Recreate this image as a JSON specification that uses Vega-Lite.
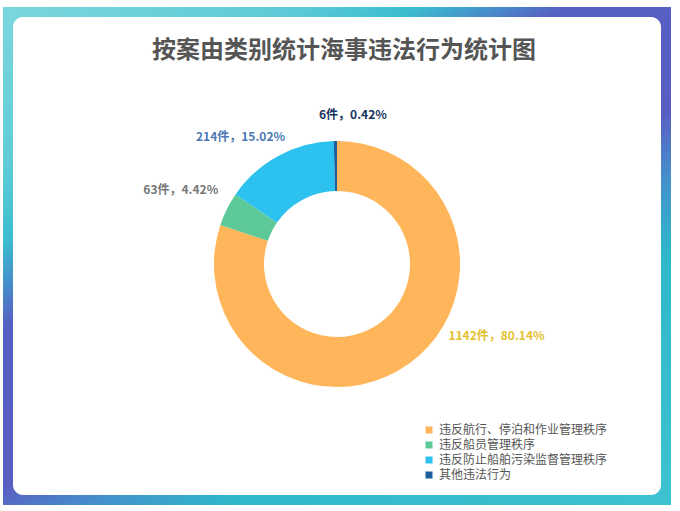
{
  "$schema": "https://vega.github.io/schema/vega-lite/v6.json",
  "width": 648,
  "height": 478,
  "autosize": "none",
  "padding": {"left": 13, "top": 17, "right": 19, "bottom": 16},
  "background": "white",
  "title": {
    "text": "按案由类别统计海事违法行为统计图",
    "font": "Noto Sans CJK SC",
    "fontSize": 24,
    "fontWeight": "bold",
    "color": "#555555",
    "anchor": "middle",
    "offset": -56,
    "dx": 7
  },
  "config": {
    "font": "Noto Sans CJK SC",
    "view": {"stroke": null},
    "legend": {
      "orient": "none",
      "legendX": 410,
      "legendY": 407,
      "padding": 0,
      "symbolType": "square",
      "symbolSize": 49,
      "symbolStrokeWidth": 0,
      "labelFont": "Noto Sans CJK SC",
      "labelFontSize": 12,
      "labelColor": "#555555",
      "labelLimit": 300,
      "labelOffset": 4,
      "rowPadding": 3
    }
  },
  "layer": [
    {
      "data": {"values": [{"frame": "border"}]},
      "mark": {
        "type": "rect",
        "strokeWidth": 20,
        "fill": {
          "gradient": "linear",
          "x1": 0, "y1": 0, "x2": 0.855, "y2": 1.111,
          "stops": [
            {"offset": 0, "color": "#7ad5dd"},
            {"offset": 0.18, "color": "#5ccbd7"},
            {"offset": 0.26, "color": "#3cbccf"},
            {"offset": 0.31, "color": "#4590cb"},
            {"offset": 0.36, "color": "#5660c2"},
            {"offset": 0.55, "color": "#5a5ec2"},
            {"offset": 0.63, "color": "#4490cc"},
            {"offset": 0.72, "color": "#2fb8ca"},
            {"offset": 1, "color": "#3cc2d0"}
          ]
        },
        "stroke": {
          "gradient": "linear",
          "x1": 0, "y1": 0, "x2": 0.855, "y2": 1.111,
          "stops": [
            {"offset": 0, "color": "#7ad5dd"},
            {"offset": 0.18, "color": "#5ccbd7"},
            {"offset": 0.26, "color": "#3cbccf"},
            {"offset": 0.31, "color": "#4590cb"},
            {"offset": 0.36, "color": "#5660c2"},
            {"offset": 0.55, "color": "#5a5ec2"},
            {"offset": 0.63, "color": "#4490cc"},
            {"offset": 0.72, "color": "#2fb8ca"},
            {"offset": 1, "color": "#3cc2d0"}
          ]
        }
      },
      "encoding": {}
    },
    {
      "data": {"values": [{"frame": "card"}]},
      "mark": {"type": "rect", "fill": "white", "cornerRadius": 10},
      "encoding": {}
    },
    {
      "data": {
        "values": [
          {"id": 1, "category": "违反航行、停泊和作业管理秩序", "count": 1142, "pct": 80.14},
          {"id": 2, "category": "违反船员管理秩序", "count": 63, "pct": 4.42},
          {"id": 3, "category": "违反防止船舶污染监督管理秩序", "count": 214, "pct": 15.02},
          {"id": 4, "category": "其他违法行为", "count": 6, "pct": 0.42}
        ]
      },
      "transform": [
        {"calculate": "datum.count + '件，' + format(datum.pct, '.2f') + '%'", "as": "label"}
      ],
      "encoding": {
        "theta": {"field": "count", "type": "quantitative", "stack": true},
        "order": {"field": "id", "type": "quantitative"}
      },
      "layer": [
        {
          "mark": {"type": "arc", "innerRadius": 73, "outerRadius": 123, "yOffset": 8},
          "encoding": {
            "color": {
              "field": "category",
              "type": "nominal",
              "scale": {
                "domain": ["违反航行、停泊和作业管理秩序", "违反船员管理秩序", "违反防止船舶污染监督管理秩序", "其他违法行为"],
                "range": ["#ffb65a", "#5dc998", "#2dc1ef", "#1e5e9c"]
              },
              "legend": {"title": null}
            }
          }
        },
        {
          "mark": {"type": "text", "radius": 160, "yOffset": 8, "dx": 66, "dy": -58, "fontSize": 12, "fontWeight": "bold", "color": "#e3c030"},
          "encoding": {"text": {"condition": {"test": "datum.id === 1", "field": "label"}, "value": ""}}
        },
        {
          "mark": {"type": "text", "radius": 160, "yOffset": 8, "dx": -13, "dy": -2.6, "fontSize": 12, "fontWeight": "bold", "color": "#777777"},
          "encoding": {"text": {"condition": {"test": "datum.id === 2", "field": "label"}, "value": ""}}
        },
        {
          "mark": {"type": "text", "radius": 160, "yOffset": 8, "dx": -20, "dy": 13.5, "fontSize": 12, "fontWeight": "bold", "color": "#4a78b2"},
          "encoding": {"text": {"condition": {"test": "datum.id === 3", "field": "label"}, "value": ""}}
        },
        {
          "mark": {"type": "text", "radius": 160, "yOffset": 8, "dx": 18, "dy": 11, "fontSize": 12, "fontWeight": "bold", "color": "#15325c"},
          "encoding": {"text": {"condition": {"test": "datum.id === 4", "field": "label"}, "value": ""}}
        }
      ]
    }
  ]
}
